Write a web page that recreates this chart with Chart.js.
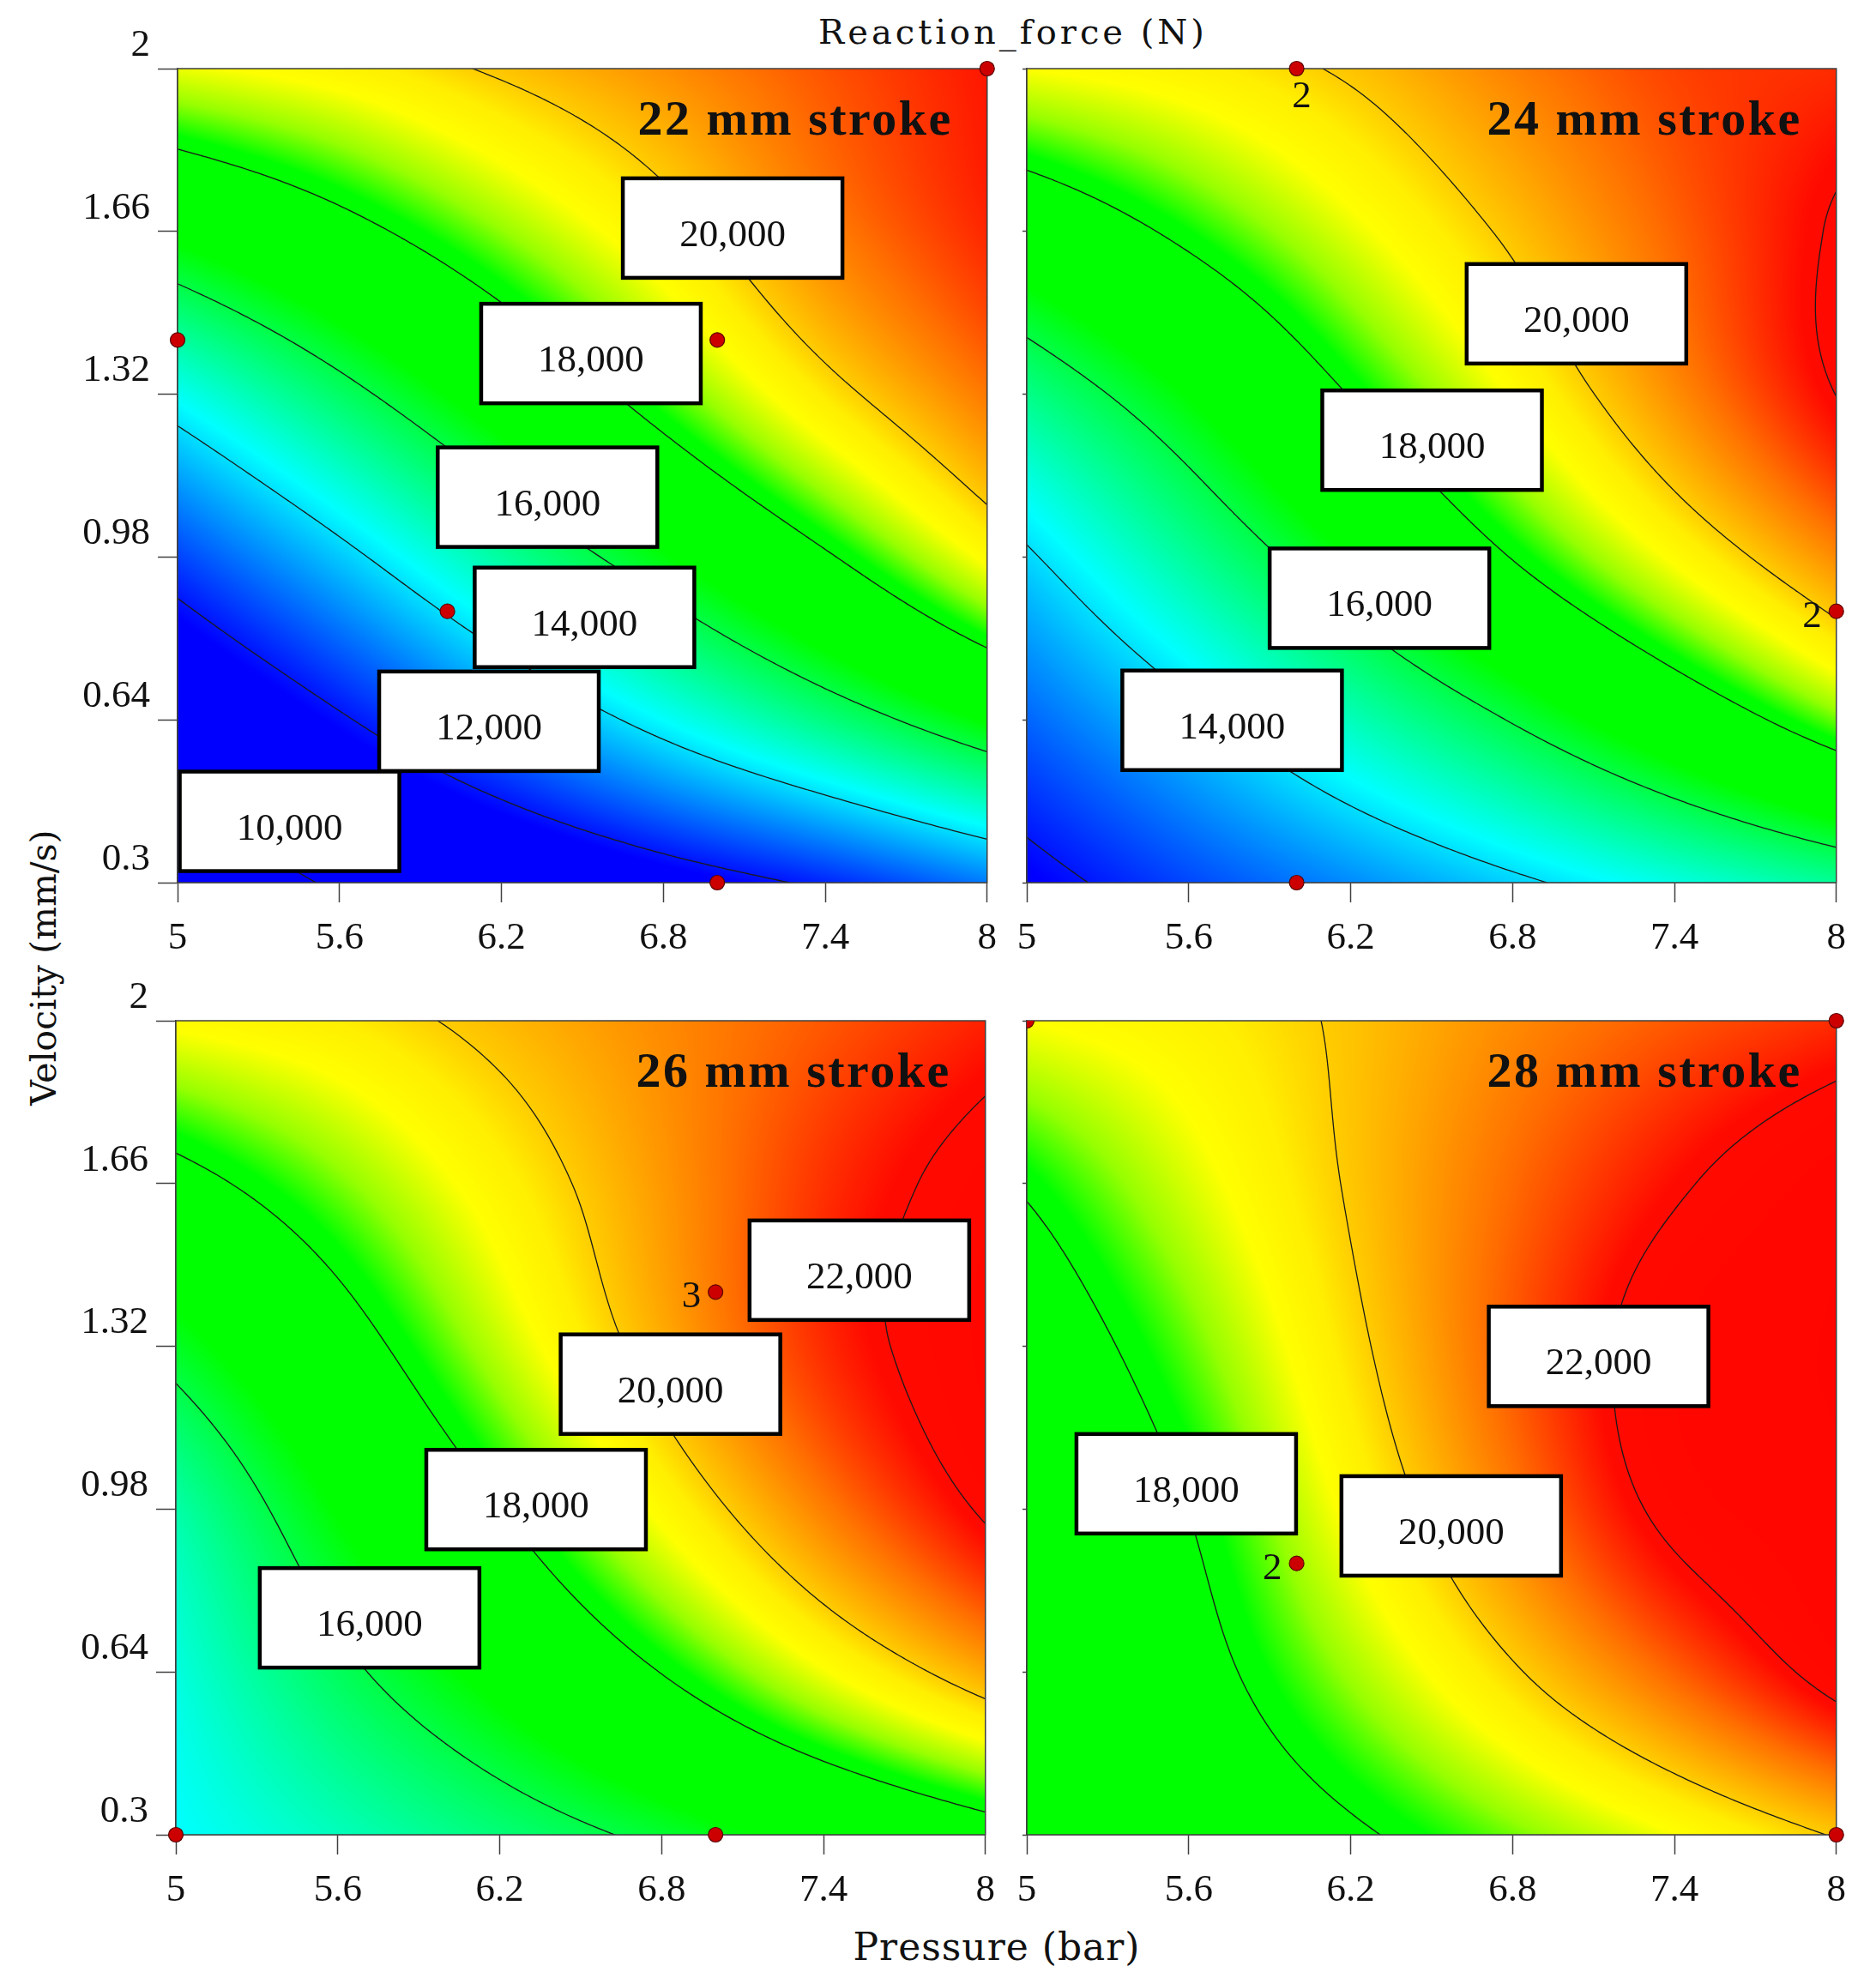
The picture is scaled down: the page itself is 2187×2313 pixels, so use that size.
<!DOCTYPE html>
<html>
<head>
<meta charset="utf-8">
<script src="https://cdn.jsdelivr.net/npm/chart.js@4.4.1/dist/chart.umd.min.js"></script>
<style>
  body { margin: 0; background: #fff; width: 2187px; height: 2313px; position: relative; overflow: hidden; }
  canvas { position: absolute; }
  .lbl { position: absolute; font-family: 'DejaVu Serif'; color: #111; white-space: nowrap; line-height: 1; }
  #title { left: 1181px; top: 17px; font-size: 40px; letter-spacing: 4px; transform: translateX(-50%); }
  #xlabel { left: 1162px; top: 2248px; font-size: 44px; letter-spacing: 1px; transform: translateX(-50%); }
  #ylabel { left: 51px; top: 1128px; font-size: 41px; transform: translate(-50%, -50%) rotate(-90deg); }
</style>
</head>
<body>
<div class="lbl" id="title">Reaction_force (N)</div>
<div class="lbl" id="ylabel">Velocity (mm/s)</div>
<div class="lbl" id="xlabel">Pressure (bar)</div>
<canvas id="c22"></canvas>
<canvas id="c24"></canvas>
<canvas id="c26"></canvas>
<canvas id="c28"></canvas>
<script>
// axes
const pressureTicks = [5, 5.6, 6.2, 6.8, 7.4, 8];
const velocityTicks = [0.3, 0.64, 0.98, 1.32, 1.66, 2];
const contourLevels = [10000, 12000, 14000, 16000, 18000, 20000, 22000];
const strokeNames = ['22 mm stroke', '24 mm stroke', '26 mm stroke', '28 mm stroke'];

// reaction force (N) read at the tick grid: rows velocity 0.3 -> 2, columns pressure 5 -> 8
const force22 = [
  [9100, 10130, 10810, 11490, 12160, 13000],
  [10750, 11900, 13110, 14310, 15470, 16660],
  [12450, 13760, 15180, 16520, 17900, 19400],
  [14410, 15720, 17060, 18400, 19740, 20900],
  [16780, 17700, 18680, 19680, 20800, 21650],
  [19200, 19550, 20100, 20650, 21250, 21800]
];
const force24 = [
  [11700, 12480, 13160, 13850, 14560, 15270],
  [12780, 13800, 14930, 16050, 17270, 18550],
  [13900, 15240, 16610, 18030, 19380, 20700],
  [15390, 16630, 18030, 19330, 20660, 22010],
  [17240, 18190, 19150, 20120, 21100, 22080],
  [19300, 19600, 20100, 20800, 21400, 21600]
];
const force26 = [
  [14300, 14920, 15550, 16190, 16890, 17600],
  [14600, 15800, 16860, 18020, 19250, 20400],
  [15100, 16640, 17990, 19420, 20820, 22100],
  [16300, 17590, 18940, 20310, 21600, 22500],
  [17700, 18590, 19560, 20550, 21550, 22300],
  [19400, 19700, 20200, 20700, 21200, 21700]
];
const force28 = [
  [16700, 17290, 17880, 18570, 19280, 20050],
  [16800, 17690, 18760, 19920, 21110, 22300],
  [17000, 18010, 19410, 20830, 22200, 22700],
  [17400, 18510, 19830, 21180, 22400, 22900],
  [18100, 19080, 20060, 21030, 21900, 22600],
  [19300, 19600, 20100, 20700, 21200, 21600]
];

// design points and replicate counts
const points22 = [{x: 8, y: 2}, {x: 5, y: 1.4333}, {x: 7, y: 1.4333}, {x: 6, y: 0.8667}, {x: 7, y: 0.3}];
const points24 = [{x: 6, y: 2}, {x: 8, y: 0.8667}, {x: 6, y: 0.3}];
const points26 = [{x: 7, y: 1.4333}, {x: 5, y: 0.3}, {x: 7, y: 0.3}];
const points28 = [{x: 8, y: 2}, {x: 6, y: 0.8667}, {x: 8, y: 0.3}];
const cornerPoints28 = [{x: 5, y: 2}];
const reps22 = [1, 1, 1, 1, 1];
const reps24 = [2, 2, 1];
const reps26 = [3, 1, 1];
const reps28 = [1, 2, 1];

// contour labels: [pressure, velocity, level]
const labels22 = [[7.057, 1.667, 20000], [6.532, 1.405, 18000], [6.371, 1.105, 16000],
                  [6.508, 0.854, 14000], [6.154, 0.637, 12000], [5.415, 0.428, 10000]];
const labels24 = [[7.037, 1.488, 20000], [6.502, 1.224, 18000], [6.307, 0.894, 16000], [5.761, 0.639, 14000]];
const labels26 = [[7.533, 1.479, 22000], [6.833, 1.241, 20000], [6.335, 1.0, 18000], [5.718, 0.753, 16000]];
const labels28 = [[7.119, 1.299, 22000], [5.591, 1.033, 18000], [6.573, 0.945, 20000]];

// colour ramp of the surface
const colourStops = [
  [8000, 0, 0, 255], [11800, 0, 0, 255], [14300, 0, 255, 255], [16000, 0, 255, 70],
  [16600, 0, 255, 0], [18200, 0, 255, 0], [18700, 150, 255, 0], [19300, 255, 255, 0],
  [19700, 255, 238, 0], [20000, 255, 205, 0], [21000, 255, 110, 0], [21900, 255, 10, 0], [24000, 255, 0, 0]
];
const lut = [];
for (let val = 8000; val <= 24000; val += 5) {
  let k = 0;
  while (k < colourStops.length - 2 && val > colourStops[k + 1][0]) k++;
  const a = colourStops[k], b = colourStops[k + 1];
  const t = Math.min(1, Math.max(0, (val - a[0]) / (b[0] - a[0])));
  lut.push([a[1] + (b[1] - a[1]) * t, a[2] + (b[2] - a[2]) * t, a[3] + (b[3] - a[3]) * t]);
}
function colourFor(val) {
  let k = Math.round((val - 8000) / 5);
  if (k < 0) k = 0; if (k >= lut.length) k = lut.length - 1;
  return lut[k];
}

const pStep = pressureTicks[1] - pressureTicks[0];
const vStep = velocityTicks[1] - velocityTicks[0];

function catmull(p0, p1, p2, p3, t) {
  const t2 = t * t, t3 = t2 * t;
  return 0.5 * (2 * p1 + (p2 - p0) * t + (2 * p0 - 5 * p1 + 4 * p2 - p3) * t2 + (3 * p1 - p0 - 3 * p2 + p3) * t3);
}
function sample1d(arr, u) {
  const n = arr.length;
  let i = Math.floor(u);
  if (i > n - 2) i = n - 2;
  if (i < 0) i = 0;
  const t = u - i;
  const at = k => k < 0 ? 2 * arr[0] - arr[1] : (k > n - 1 ? 2 * arr[n - 1] - arr[n - 2] : arr[k]);
  return catmull(at(i - 1), at(i), at(i + 1), at(i + 2), t);
}
function surface(grid, p, v) {
  const u = (p - pressureTicks[0]) / pStep;
  const w = (v - velocityTicks[0]) / vStep;
  return sample1d(grid.map(row => sample1d(row, u)), w);
}

function traceContours(grid) {
  const n = 190, P = [], V = [], Z = [];
  for (let i = 0; i <= n; i++) P.push(5 + 3 * i / n);
  for (let j = 0; j <= n; j++) V.push(0.3 + 1.7 * j / n);
  for (let j = 0; j <= n; j++) Z.push(P.map(p => surface(grid, p, V[j])));
  const segs = [];
  contourLevels.forEach(L => {
    for (let j = 0; j < n; j++) {
      for (let i = 0; i < n; i++) {
        const cs = [[P[i], V[j], Z[j][i]], [P[i + 1], V[j], Z[j][i + 1]],
                    [P[i + 1], V[j + 1], Z[j + 1][i + 1]], [P[i], V[j + 1], Z[j + 1][i]]];
        const hits = [];
        for (let k = 0; k < 4; k++) {
          const A = cs[k], B = cs[(k + 1) % 4];
          if ((A[2] < L) !== (B[2] < L)) {
            const t = (L - A[2]) / (B[2] - A[2]);
            hits.push([A[0] + (B[0] - A[0]) * t, A[1] + (B[1] - A[1]) * t]);
          }
        }
        if (hits.length === 2) segs.push([hits[0], hits[1]]);
        else if (hits.length === 4) {
          const c = (cs[0][2] + cs[1][2] + cs[2][2] + cs[3][2]) / 4;
          if ((c < L) === (cs[0][2] < L)) segs.push([hits[0], hits[1]], [hits[2], hits[3]]);
          else segs.push([hits[3], hits[0]], [hits[1], hits[2]]);
        }
      }
    }
  });
  return segs;
}

function buildField(grid, chart) {
  const { chartArea: a, scales: { x, y } } = chart;
  const w = Math.round(a.right - a.left), h = Math.round(a.bottom - a.top);
  const off = document.createElement('canvas');
  off.width = w; off.height = h;
  const octx = off.getContext('2d');
  const img = octx.createImageData(w, h);
  const strips = [];
  for (let i = 0; i < w; i++) {
    const u = (x.getValueForPixel(a.left + i + 0.5) - pressureTicks[0]) / pStep;
    strips.push(grid.map(row => sample1d(row, u)));
  }
  for (let j = 0; j < h; j++) {
    const wv = (y.getValueForPixel(a.top + j + 0.5) - velocityTicks[0]) / vStep;
    for (let i = 0; i < w; i++) {
      const c = colourFor(sample1d(strips[i], wv));
      const k = (j * w + i) * 4;
      img.data[k] = c[0]; img.data[k + 1] = c[1]; img.data[k + 2] = c[2]; img.data[k + 3] = 255;
    }
  }
  octx.putImageData(img, 0, 0);
  return off;
}

function surfacePlugin(pn) {
  let field = null, segs = null;
  return {
    id: 'surface' + pn.id,
    beforeDatasetsDraw(chart) {
      const { ctx, chartArea: a, scales: { x, y } } = chart;
      if (!field) { field = buildField(pn.grid, chart); segs = traceContours(pn.grid); }
      ctx.save();
      ctx.drawImage(field, a.left, a.top);
      ctx.beginPath();
      ctx.rect(a.left, a.top, a.right - a.left, a.bottom - a.top);
      ctx.clip();
      ctx.beginPath();
      segs.forEach(s => {
        ctx.moveTo(x.getPixelForValue(s[0][0]), y.getPixelForValue(s[0][1]));
        ctx.lineTo(x.getPixelForValue(s[1][0]), y.getPixelForValue(s[1][1]));
      });
      ctx.strokeStyle = '#1a1a1a';
      ctx.lineWidth = 1.3;
      ctx.lineCap = 'round';
      ctx.stroke();
      ctx.restore();

      // contour labels
      ctx.save();
      ctx.font = '45px "Liberation Serif"';
      ctx.textAlign = 'center';
      ctx.textBaseline = 'alphabetic';
      pn.labels.forEach(l => {
        const cx = x.getPixelForValue(l[0]), cy = y.getPixelForValue(l[1]);
        ctx.fillStyle = '#fff';
        ctx.fillRect(cx - 128, cy - 58, 256, 116);
        ctx.strokeStyle = '#000';
        ctx.lineWidth = 4.5;
        ctx.strokeRect(cx - 128, cy - 58, 256, 116);
        ctx.fillStyle = '#111';
        ctx.fillText(l[2].toLocaleString('en-US'), cx, cy + 21);
      });
      ctx.restore();

      // frame
      ctx.save();
      ctx.strokeStyle = '#404040';
      ctx.lineWidth = 1.5;
      ctx.strokeRect(a.left, a.top, a.right - a.left, a.bottom - a.top);
      ctx.restore();
    },
    afterDatasetsDraw(chart) {
      const { ctx, chartArea: a, scales: { x, y } } = chart;
      ctx.save();
      ctx.fillStyle = '#111';
      ctx.font = '45px "Liberation Serif"';
      ctx.textBaseline = 'alphabetic';
      pn.points.forEach((pt, i) => {
        const n = pn.reps[i];
        if (n < 2) return;
        const px = x.getPixelForValue(pt.x), py = y.getPixelForValue(pt.y);
        if (pn.sides[i] === 'below') {
          ctx.textAlign = 'center';
          ctx.fillText(String(n), px + 6, py + 45);
        } else {
          ctx.textAlign = 'right';
          ctx.fillText(String(n), px - 17, py + 18);
        }
      });
      ctx.font = 'bold 58px "Liberation Serif"';
      ctx.letterSpacing = '2.5px';
      ctx.textAlign = 'right';
      ctx.fillText(pn.name, a.right - 40, a.top + 77);
      ctx.restore();
    }
  };
}

const panels = [
  { id: 'c22', name: strokeNames[0], grid: force22, labels: labels22, points: points22, reps: reps22,
    sides: [], left: 77, top: 20, yLabels: true },
  { id: 'c24', name: strokeNames[1], grid: force24, labels: labels24, points: points24, reps: reps24,
    sides: ['below', 'left'], left: 1067, top: 20, yLabels: false },
  { id: 'c26', name: strokeNames[2], grid: force26, labels: labels26, points: points26, reps: reps26,
    sides: ['left'], left: 75, top: 1130, yLabels: true },
  { id: 'c28', name: strokeNames[3], grid: force28, labels: labels28, points: points28, reps: reps28,
    sides: ['', 'left'], left: 1067, top: 1130, yLabels: false, corner: cornerPoints28 }
];

const tickFont = { family: 'Liberation Serif', size: 45 };
const dotStyle = { pointRadius: 8.5, pointHoverRadius: 8.5, backgroundColor: '#cc0000', borderColor: '#5a0000', borderWidth: 1.2 };

panels.forEach(pn => {
  const cv = document.getElementById(pn.id);
  cv.width = 1100;
  cv.height = 1109;
  cv.style.left = pn.left + 'px';
  cv.style.top = pn.top + 'px';
  const datasets = [Object.assign({ data: pn.points, clip: false }, dotStyle)];
  if (pn.corner) datasets.push(Object.assign({ data: pn.corner, clip: 0 }, dotStyle));
  new Chart(cv, {
    type: 'scatter',
    data: { datasets },
    options: {
      responsive: false,
      animation: false,
      devicePixelRatio: 1,
      events: [],
      layout: { padding: { top: 60, right: 20, left: 0, bottom: 0 } },
      plugins: { legend: { display: false }, tooltip: { enabled: false } },
      scales: {
        x: {
          type: 'linear', min: 5, max: 8,
          afterBuildTicks: ax => { ax.ticks = pressureTicks.map(v => ({ value: v })); },
          afterFit: ax => { ax.height = 100; },
          grid: { drawOnChartArea: false, tickLength: 23, tickColor: '#404040', tickWidth: 1.5 },
          border: { color: '#404040', width: 1.5 },
          ticks: { autoSkip: false, maxRotation: 0, minRotation: 0, padding: 15, color: '#111', font: tickFont,
                   callback: v => String(v) }
        },
        y: {
          type: 'linear', min: 0.3, max: 2,
          afterBuildTicks: ax => { ax.ticks = velocityTicks.map(v => ({ value: v })); },
          afterFit: ax => { ax.width = 130; },
          grid: { drawOnChartArea: false, tickLength: pn.yLabels ? 23 : 5, tickColor: '#404040', tickWidth: 1.5 },
          border: { color: '#404040', width: 1.5 },
          ticks: { display: pn.yLabels, padding: 9, labelOffset: -27, color: '#111', font: tickFont,
                   callback: v => String(v) }
        }
      }
    },
    plugins: [surfacePlugin(pn)]
  });
});
</script>
</body>
</html>
